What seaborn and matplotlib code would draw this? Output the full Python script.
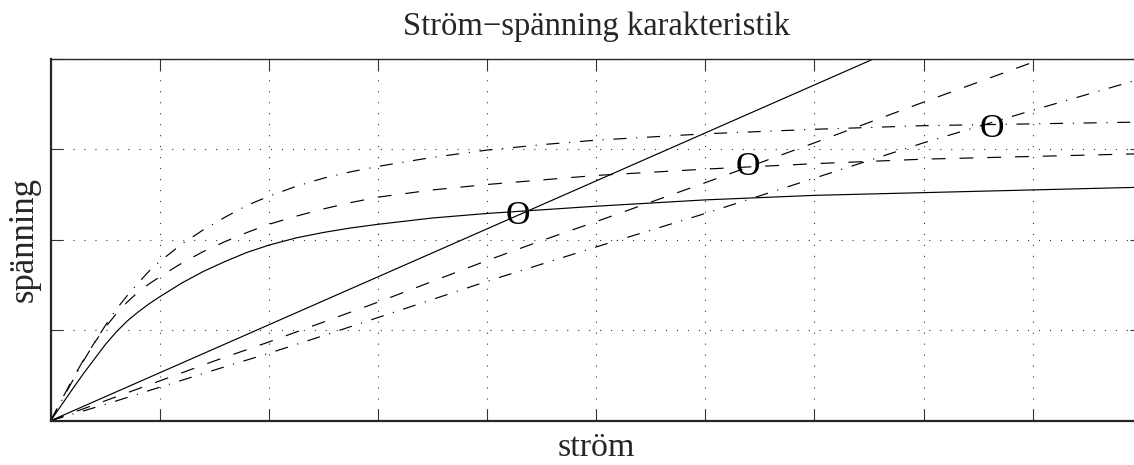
import matplotlib
matplotlib.use("Agg")
import matplotlib.pyplot as plt
import seaborn as sns
import pandas as pd

# current (x) sample points for the saturating characteristics
strom_fin = [0, 0.1, 0.2, 0.3, 0.4, 0.5, 0.6, 0.7, 0.8, 0.9, 1.0, 1.2, 1.4, 1.6, 1.8,
             2.0, 2.25, 2.5, 2.75, 3.0, 3.5, 4, 4.5, 5, 6, 7, 8, 9, 10]

# saturating voltage curves
spanning_hel = [0, 0.175, 0.35, 0.52, 0.68, 0.84, 0.98, 1.10, 1.20, 1.29, 1.37, 1.52, 1.65,
                1.76, 1.86, 1.94, 2.02, 2.08, 2.13, 2.17, 2.24, 2.29, 2.33, 2.37, 2.44,
                2.49, 2.52, 2.55, 2.58]
spanning_streck = [0, 0.23, 0.46, 0.67, 0.86, 1.03, 1.18, 1.31, 1.42, 1.51, 1.59, 1.74, 1.87,
                   1.98, 2.08, 2.17, 2.26, 2.34, 2.41, 2.47, 2.55, 2.61, 2.66, 2.71, 2.78,
                   2.84, 2.89, 2.92, 2.95]
spanning_streckpunkt = [0, 0.22, 0.44, 0.66, 0.86, 1.05, 1.23, 1.38, 1.52, 1.65, 1.76, 1.95,
                        2.11, 2.25, 2.38, 2.48, 2.59, 2.68, 2.75, 2.81, 2.91, 2.99, 3.05,
                        3.10, 3.17, 3.22, 3.26, 3.28, 3.30]

# load lines
strom_grov = [0, 0.5, 1, 1.5, 2, 2.5, 3, 3.5, 4, 4.5, 5, 6, 7, 8, 9, 10]
last_hel = [0, 0.265, 0.53, 0.795, 1.06, 1.325, 1.59, 1.855, 2.12, 2.385, 2.65, 3.18,
            3.71, 4.24, 4.77, 5.30]
last_streck = [0, 0.22, 0.44, 0.66, 0.87, 1.09, 1.31, 1.54, 1.77, 1.99, 2.20, 2.63,
               3.07, 3.52, 3.96, 4.40]
last_streckpunkt = [0, 0.18, 0.37, 0.56, 0.745, 0.94, 1.14, 1.34, 1.54, 1.73, 1.92, 2.29,
                    2.68, 3.07, 3.43, 3.78]

# operating points (intersections)
punkt_x = [4.28, 6.39, 8.63]
punkt_y = [2.30, 2.84, 3.27]

titel = "Ström\u2212spänning karakteristik"
x_etikett = "ström"
y_etikett = "spänning"

sns.set_style("ticks")
plt.rcParams["font.family"] = ["Liberation Serif", "DejaVu Serif"]
plt.rcParams["lines.scale_dashes"] = False

W, H = 1134, 465
fig = plt.figure(figsize=(W / 100, H / 100), dpi=100)
ax = fig.add_axes([50.7 / W, 44.3 / H, 1091 / W, 362 / H])

streck = (0, (10, 10))
streckpunkt = (0, (9.4, 7.0, 0.8, 7.0))
lw = 0.85

sat = pd.DataFrame({
    "strom": strom_fin,
    "hel": spanning_hel,
    "streck": spanning_streck,
    "streckpunkt": spanning_streckpunkt,
})
last = pd.DataFrame({
    "strom": strom_grov,
    "hel": last_hel,
    "streck": last_streck,
    "streckpunkt": last_streckpunkt,
})

stilar = {"hel": "-", "streck": streck, "streckpunkt": streckpunkt}
for df in (sat, last):
    for kol, stil in stilar.items():
        sns.lineplot(data=df, x="strom", y=kol, ax=ax, color="k", lw=lw,
                     linestyle=stil, sort=False)

for px, py in zip(punkt_x, punkt_y):
    ax.text(px, py, "O", ha="center", va="center_baseline", fontsize=24.5, color="k")

ax.set_xlim(0, 10)
ax.set_ylim(0, 4)
ax.set_xticks(range(0, 11))
ax.set_yticks(range(0, 5))
ax.grid(True, color="k", linestyle=(0, (0.8, 7.1)), linewidth=0.8, alpha=0.8)
ax.tick_params(direction="in", length=8.6, width=0.8, color="#333333",
               top=True, right=True, labelbottom=False, labelleft=False)
for side in ["left", "bottom"]:
    ax.spines[side].set_linewidth(1.6)
for side in ["top", "right"]:
    ax.spines[side].set_linewidth(1.0)
    ax.spines[side].set_visible(True)

ax.set_title(titel, fontsize=23.5, pad=17)
ax.set_xlabel(x_etikett, fontsize=24.5, labelpad=8.5)
ax.set_ylabel(y_etikett, fontsize=25, labelpad=7)

fig.savefig("out.png", dpi=100)
